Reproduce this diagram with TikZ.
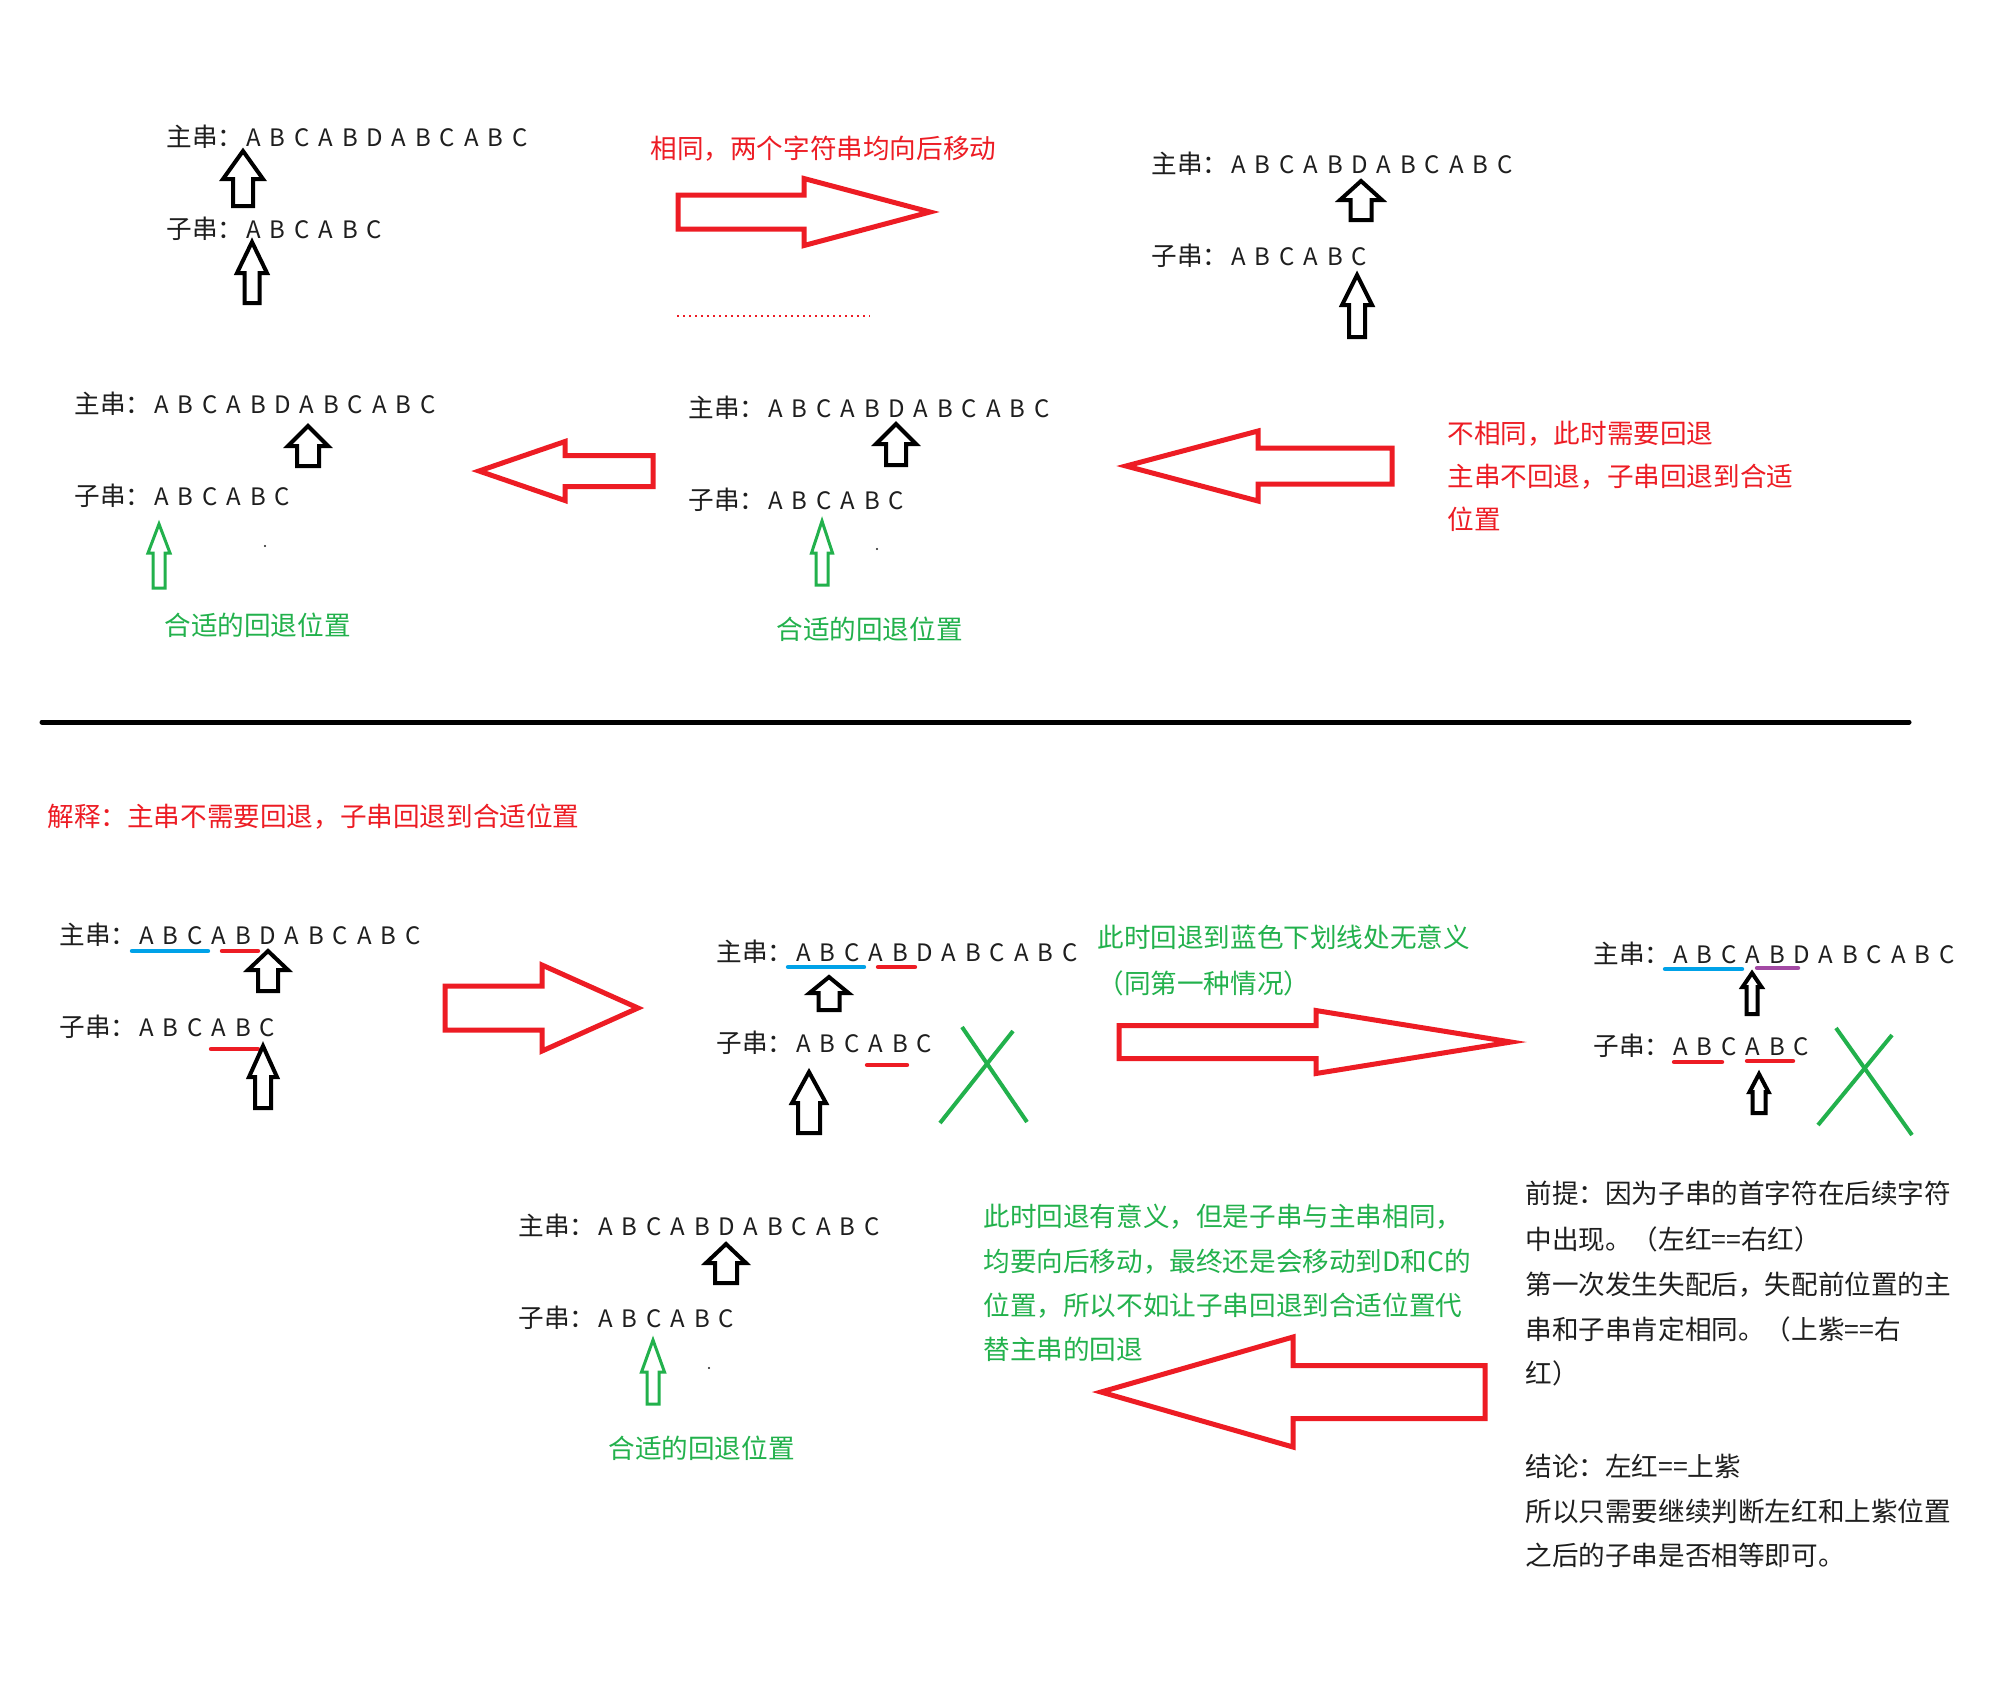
\documentclass[tikz,border=0pt]{standalone}
\usepackage{fontspec}
\setmainfont{Noto Sans CJK SC}
\usepackage{xcolor}
\definecolor{kmpred}{HTML}{ED1C24}
\definecolor{kmpgreen}{HTML}{22B14C}
\definecolor{kmpblue}{HTML}{00A2E8}
\definecolor{kmppurple}{HTML}{A349A4}
\definecolor{kmpink}{HTML}{1E1E1E}

\tikzset{
  strtxt/.style={inner sep=0pt, anchor=base west, text=kmpink, font=\fontsize{12.8}{14}\selectfont},
  chrtxt/.style={inner sep=0pt, anchor=base, text=kmpink, font=\fontsize{12}{14}\selectfont},
  notetxt/.style={inner sep=0pt, anchor=base west, font=\fontsize{13.3}{16}\selectfont},
  blkarr/.style={draw=black, line width=2pt, fill=white},
  grnarr/.style={draw=kmpgreen, line width=1.5pt, fill=white},
  redarr/.style={draw=kmpred, line width=2.5pt},
  uline/.style={line width=2.2pt, line cap=round},
  nomatch/.style={draw=kmpgreen, line width=2pt},
}

% main string / sub string pair: name, x, baseline of main, baseline of sub
\newcommand{\kmpstr}[4]{%
  \node[strtxt] (#1-m) at (#2,#3) {主串：};
  \foreach \ch [count=\i] in {A,B,C,A,B,D,A,B,C,A,B,C}
    \node[chrtxt] (#1-m\i) at ({#2+63.3+24.2*\i},#3) {\ch};
  \node[strtxt] (#1-s) at (#2,#4) {子串：};
  \foreach \ch [count=\i] in {A,B,C,A,B,C}
    \node[chrtxt] (#1-s\i) at ({#2+63.3+24.2*\i},#4) {\ch};
}
% hollow up arrow: style, x, tip y, bottom y, head half width, shaft half width, head length
\newcommand{\uparr}[7]{%
  \draw[#1] (#2,#3) -- ({#2+#5},{#3+#7}) -- ({#2+#6},{#3+#7}) -- ({#2+#6},#4)
    -- ({#2-#6},#4) -- ({#2-#6},{#3+#7}) -- ({#2-#5},{#3+#7}) -- cycle;}
% hollow red side arrow: tail x, head base x, tip x, mid y, shaft half, head half
\newcommand{\sidearr}[6]{%
  \draw[redarr] (#1,{#4-#5}) -- (#2,{#4-#5}) -- (#2,{#4-#6}) -- (#3,#4)
    -- (#2,{#4+#6}) -- (#2,{#4+#5}) -- (#1,{#4+#5}) -- cycle;}

\begin{document}
\begin{tikzpicture}[x=0.5pt,y=-0.5pt]
  \useasboundingbox (0,0) rectangle (2005,1705);
  \fill[white] (0,0) rectangle (2005,1705);

  % top: both move on
  \kmpstr{A}{166}{146}{238}
  \uparr{blkarr}{243}{151}{206}{20}{10}{28}
  \uparr{blkarr}{252}{242}{303}{15}{7.5}{31}
  \node[notetxt, text=kmpred] (same) at (650,158) {相同，两个字符串均向后移动};
  \sidearr{678}{804}{930}{212}{17}{33.5}
  \draw[kmpred, line width=1pt, dash pattern=on 1pt off 2pt] (677,316) -- (870,316);
  \kmpstr{B}{1151}{173}{265}
  \uparr{blkarr}{1361}{181}{220}{21}{10.5}{19}
  \uparr{blkarr}{1357}{275}{337}{15}{8}{30}

  % mismatch: sub string goes back
  \kmpstr{C}{74}{413}{505}
  \uparr{blkarr}{308}{426}{466}{20}{11}{20}
  \uparr{grnarr}{159}{524}{588}{11}{6}{29}
  \fill[kmpink] (265,546) circle[radius=0.6pt];
  \node[notetxt, text=kmpgreen] (fitC) at (164,635) {合适的回退位置};
  \sidearr{653}{565}{479}{471}{15.5}{29.5}
  \kmpstr{D}{688}{417}{509}
  \uparr{blkarr}{896}{424}{465}{20}{10}{20}
  \uparr{grnarr}{822}{521}{585}{10.5}{6}{32}
  \fill[kmpink] (877,549) circle[radius=0.6pt];
  \node[notetxt, text=kmpgreen] (fitD) at (776,639) {合适的回退位置};
  \sidearr{1392}{1258}{1126}{466}{18}{35}
  \node[notetxt, text=kmpred] (diff1) at (1447,443) {不相同，此时需要回退};
  \node[notetxt, text=kmpred] (diff2) at (1447,486) {主串不回退，子串回退到合适};
  \node[notetxt, text=kmpred] (diff3) at (1447,529) {位置};

  \draw[black, line width=2.5pt, line cap=round] (42,722) -- (1909,722);

  % explanation
  \node[notetxt, text=kmpred] (why) at (47,826) {解释：主串不需要回退，子串回退到合适位置};
  \kmpstr{E}{59}{944}{1036}
  \draw[uline, kmpblue] (132,951) -- (208,951);
  \draw[uline, kmpred] (222,951) -- (258,951);
  \draw[uline, kmpred] (211,1049) -- (258,1049);
  \uparr{blkarr}{268}{951}{991}{20}{10}{19}
  \uparr{blkarr}{263}{1046}{1108}{14}{8}{31}
  \sidearr{445}{542}{638}{1008}{22}{43}

  \kmpstr{F}{716}{961}{1052}
  \draw[uline, kmpblue] (788,967) -- (864,967);
  \draw[uline, kmpred] (878,967) -- (915,967);
  \draw[uline, kmpred] (867,1065) -- (907,1065);
  \uparr{blkarr}{829}{977}{1010}{19.5}{10.5}{16}
  \uparr{blkarr}{809}{1072}{1133}{17}{11}{31}
  \draw[nomatch] (940,1123) -- (1013,1031);
  \draw[nomatch] (962,1027) -- (1027,1122);
  \node[notetxt, text=kmpgreen] (blue1) at (1097,947) {此时回退到蓝色下划线处无意义};
  \node[notetxt, text=kmpgreen] (blue2) at (1097,993) {（同第一种情况）};
  \sidearr{1119}{1316}{1511}{1042}{16.5}{31.5}

  \kmpstr{G}{1593}{963}{1055}
  \draw[uline, kmpblue] (1665,969) -- (1742,969);
  \draw[uline, kmppurple] (1757,968) -- (1798,968);
  \draw[uline, kmpred] (1674,1062) -- (1722,1062);
  \draw[uline, kmpred] (1747,1061) -- (1793,1061);
  \uparr{blkarr}{1752}{973}{1014}{9.5}{5.5}{14}
  \uparr{blkarr}{1759}{1074}{1113}{9.5}{6.5}{18}
  \draw[nomatch] (1818,1125) -- (1892,1035);
  \draw[nomatch] (1836,1028) -- (1912,1135);

  \kmpstr{H}{518}{1235}{1327}
  \uparr{blkarr}{726}{1244}{1283}{20}{11}{19}
  \uparr{grnarr}{653}{1340}{1404}{11.5}{6}{32}
  \fill[kmpink] (709,1368) circle[radius=0.6pt];
  \node[notetxt, text=kmpgreen] (fitH) at (608,1458) {合适的回退位置};
  \node[notetxt, text=kmpgreen] (mean1) at (983,1226) {此时回退有意义，但是子串与主串相同，};
  \node[notetxt, text=kmpgreen] (mean2) at (983,1271) {均要向后移动，最终还是会移动到D和C的};
  \node[notetxt, text=kmpgreen] (mean3) at (983,1315) {位置，所以不如让子串回退到合适位置代};
  \node[notetxt, text=kmpgreen] (mean4) at (983,1359) {替主串的回退};
  \sidearr{1485}{1293}{1101}{1392}{26.5}{55}

  % premise and conclusion
  \node[notetxt, text=kmpink] (pre1) at (1525,1203) {前提：因为子串的首字符在后续字符};
  \node[notetxt, text=kmpink] (pre2) at (1525,1249) {中出现。（左红==右红）};
  \node[notetxt, text=kmpink] (pre3) at (1525,1294) {第一次发生失配后，失配前位置的主};
  \node[notetxt, text=kmpink] (pre4) at (1525,1339) {串和子串肯定相同。（上紫==右};
  \node[notetxt, text=kmpink] (pre5) at (1525,1383) {红）};
  \node[notetxt, text=kmpink] (res1) at (1525,1476) {结论：左红==上紫};
  \node[notetxt, text=kmpink] (res2) at (1525,1521) {所以只需要继续判断左红和上紫位置};
  \node[notetxt, text=kmpink] (res3) at (1525,1565) {之后的子串是否相等即可。};
\end{tikzpicture}
\end{document}
